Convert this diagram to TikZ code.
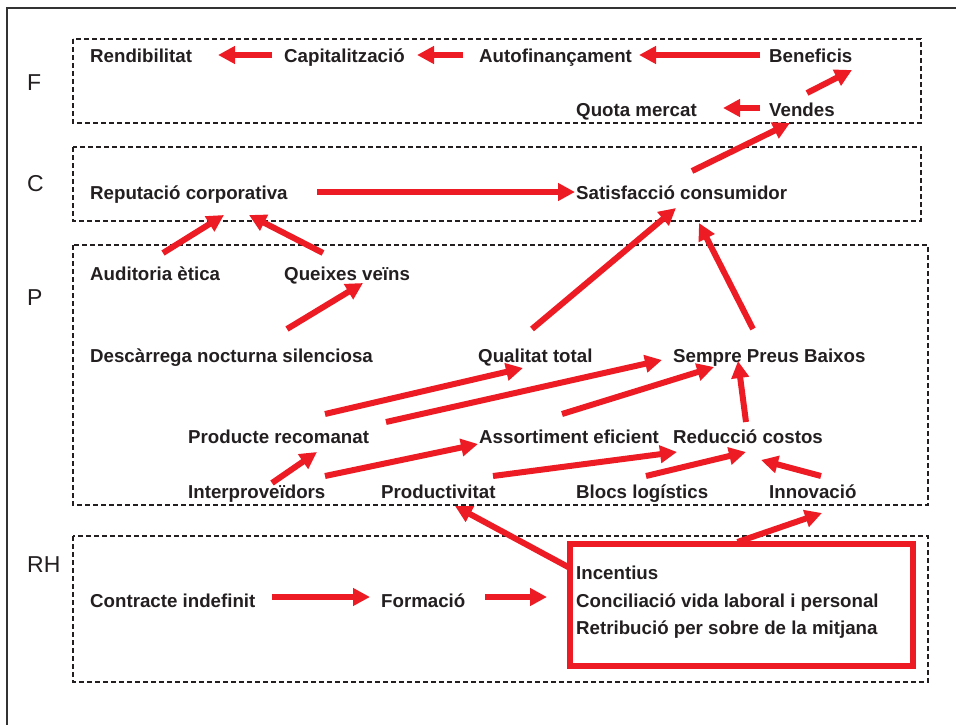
\documentclass[tikz,border=0pt]{standalone}
\usepackage{fontspec}
\setmainfont{Liberation Sans}
\usepackage{tikz}
\usetikzlibrary{positioning}
\usetikzlibrary{arrows.meta}
\definecolor{arrowred}{RGB}{237,28,36}
\definecolor{txtgray}{RGB}{35,31,32}
\tikzstyle{item} = [inner sep=0pt, anchor=base west, text=txtgray, font=\fontsize{18.7}{22}\selectfont\bfseries]
\tikzstyle{rowlabel} = [inner sep=0pt, anchor=base west, text=txtgray, font=\fontsize{23}{26}\selectfont]
\tikzstyle{zone} = [draw=txtgray, line width=1.2pt, dash pattern=on 5pt off 3pt]
\tikzstyle{redarrow} = [draw=arrowred, line width=6pt, -{Triangle[length=17pt,width=17pt]}, arrowred]

\begin{document}
\begin{tikzpicture}[x=1pt, y=-1pt]
			\useasboundingbox (0,0) rectangle (956,725);
			\draw [black!80, line width=2pt] (7,725) -- (7,8) -- (956,8);
			
			% dashed zones
			\draw [zone] (73,39) rectangle (921,123);
			\draw [zone] (73,147) rectangle (921,221);
			\draw [zone] (73,245) rectangle (928,505);
			\draw [zone] (73,536) rectangle (928,682);
			
			\node[rowlabel] at (27,91) (lblF) {F};
			\node[rowlabel] at (27,191) (lblC) {C};
			\node[rowlabel] at (27,305) (lblP) {P};
			\node[rowlabel] at (27,572) (lblRH) {RH};
			
			% F
			\node[item] at (90,63) (rendib) {Rendibilitat};
			\node[item] at (284,63) (capital) {Capitalització};
			\node[item] at (479,63) (autofin) {Autofinançament};
			\node[item] at (769,63) (benef) {Beneficis};
			\node[item] at (576,117) (quota) {Quota mercat};
			\node[item] at (769,117) (vendes) {Vendes};
			% C
			\node[item] at (90,199) (reput) {Reputació corporativa};
			\node[item] at (576,199) (satisf) {Satisfacció consumidor};
			% P
			\node[item] at (90,280) (audit) {Auditoria ètica};
			\node[item] at (284,280) (queix) {Queixes veïns};
			\node[item] at (90,362) (descar) {Descàrrega nocturna silenciosa};
			\node[item] at (478,362) (qualit) {Qualitat total};
			\node[item] at (673,362) (sempre) {Sempre Preus Baixos};
			\node[item] at (188,443) (product) {Producte recomanat};
			\node[item] at (479,443) (assort) {Assortiment eficient};
			\node[item] at (673,443) (reduc) {Reducció costos};
			\node[item] at (188,498) (interp) {Interproveïdors};
			\node[item] at (381,498) (productiv) {Productivitat};
			\node[item] at (576,498) (blocs) {Blocs logístics};
			\node[item] at (769,498) (innov) {Innovació};
			% RH
			\node[item] at (90,607) (contr) {Contracte indefinit};
			\node[item] at (381,607) (forma) {Formació};
			\node[item] at (576,579) (incent) {Incentius};
			\node[item] at (576,607) (concil) {Conciliació vida laboral i personal};
			\node[item] at (576,634) (retrib) {Retribució per sobre de la mitjana};
			
			\node[draw=arrowred, line width=6pt, minimum width=343pt, minimum height=122pt] at (741.5,605) (hrbox) {};
			
			% arrows
			\draw [redarrow] ([shift={(-12,-8)}]capital.base west) -- ([shift={(128,-8)}]rendib.base west);
			\draw [redarrow] ([shift={(-16,-8)}]autofin.base west) -- ([shift={(133,-8)}]capital.base west);
			\draw [redarrow] ([shift={(-9,-8)}]benef.base west) -- ([shift={(160,-8)}]autofin.base west);
			\draw [redarrow] ([shift={(38,-24)}]vendes.base west) -- ([shift={(83,7)}]benef.base west);
			\draw [redarrow] ([shift={(-9,-9)}]vendes.base west) -- ([shift={(147,-9)}]quota.base west);
			\draw [redarrow] ([shift={(116,-28)}]satisf.base west) -- ([shift={(21,6)}]vendes.base west);
			\draw [redarrow] ([shift={(227,-7)}]reput.base west) -- ([shift={(-1,-7)}]satisf.base west);
			\draw [redarrow] ([shift={(73,-27)}]audit.base west) -- ([shift={(134,16)}]reput.base west);
			\draw [redarrow] ([shift={(39,-27)}]queix.base west) -- ([shift={(159,16)}]reput.base west);
			\draw [redarrow] ([shift={(197,-33)}]descar.base west) -- ([shift={(79,3)}]queix.base west);
			\draw [redarrow] ([shift={(54,-33)}]qualit.base west) -- ([shift={(100,9)}]satisf.base west);
			\draw [redarrow] ([shift={(80,-33)}]sempre.base west) -- ([shift={(123,24)}]satisf.base west);
			\draw [redarrow] ([shift={(137,-29)}]product.base west) -- ([shift={(45,6)}]qualit.base west);
			\draw [redarrow] ([shift={(198,-21)}]product.base west) -- ([shift={(-11,-2)}]sempre.base west);
			\draw [redarrow] ([shift={(83,-29)}]assort.base west) -- ([shift={(41,5)}]sempre.base west);
			\draw [redarrow] ([shift={(73,-21)}]reduc.base west) -- ([shift={(65,-1)}]sempre.base west);
			\draw [redarrow] ([shift={(84,-15)}]interp.base west) -- ([shift={(129,9)}]product.base west);
			\draw [redarrow] ([shift={(137,-22)}]interp.base west) -- ([shift={(-1,1)}]assort.base west);
			\draw [redarrow] ([shift={(112,-22)}]productiv.base west) -- ([shift={(4,9)}]reduc.base west);
			\draw [redarrow] ([shift={(70,-22)}]blocs.base west) -- ([shift={(73,9)}]reduc.base west);
			\draw [redarrow] ([shift={(52,-22)}]innov.base west) -- ([shift={(88,17)}]reduc.base west);
			\draw [redarrow] ([shift={(3,-37)}]hrbox.west) -- ([shift={(74,8)}]productiv.base west);
			\draw [redarrow] ([shift={(-4,1)}]hrbox.north) -- ([shift={(53,15)}]innov.base west);
			\draw [redarrow] ([shift={(182,-10)}]contr.base west) -- ([shift={(-11,-10)}]forma.base west);
			\draw [redarrow] ([shift={(104,-10)}]forma.base west) -- ([shift={(-20,-8)}]hrbox.west);
			
		\end{tikzpicture}
\end{document}
